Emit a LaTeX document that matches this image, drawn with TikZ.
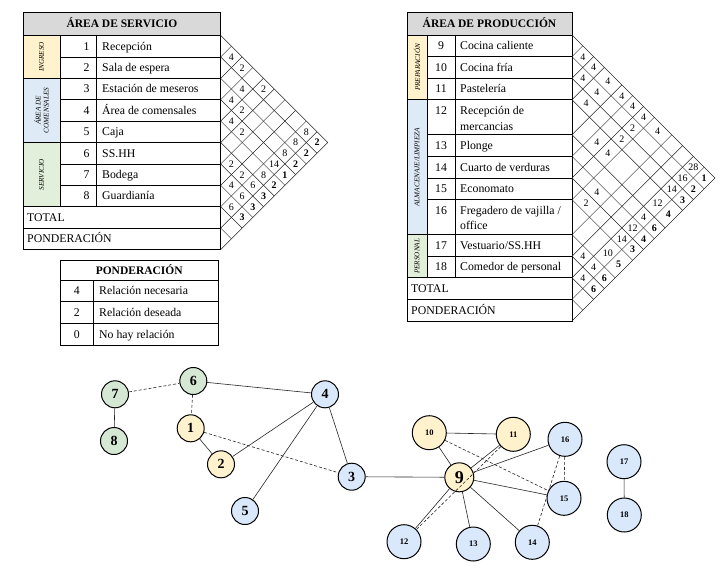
\documentclass[tikz,border=0pt]{standalone}
\usepackage{fontspec}
\setmainfont{Liberation Serif}
\definecolor{cyel}{HTML}{FFF2CC}
\definecolor{cblu}{HTML}{DAE8FC}
\definecolor{cgrn}{HTML}{D5E8D4}
\definecolor{tgray}{HTML}{D9D9D9}
\definecolor{tyel}{HTML}{FFF2CC}
\definecolor{tblu}{HTML}{DEEBF7}
\definecolor{tgrn}{HTML}{E2EFDA}
\newcommand\mRv[1]{\ifcase#1 0\or45.8\or67.4\or89\or117.3\or145.6\or167.2\or188.8\or217.1\or245.4\or267\or288.6\or310.2\fi}
\newcommand\lcell[3]{\node[cnum] (l#1-#2) at ({220.7+(#2-#1)*10.7},{35.5+(#1+#2-1)*10.7}) {#3};}
\newcommand\rcell[3]{\pgfmathsetmacro\cellma{\mRv{#1}}\pgfmathsetmacro\cellmb{\mRv{#2}}\pgfmathsetmacro\cellx{572+(\cellmb-\cellma)/2}\pgfmathsetmacro\celly{(\cellma+\cellmb)/2}\node[cnum] (r#1-#2) at (\cellx,\celly) {#3};}
\begin{document}
\begin{tikzpicture}[x=1pt,y=-1pt,
  tline/.style={line width=0.7pt,draw=black},
  gridl/.style={line width=0.45pt,draw=black!85},
  cnum/.style={inner sep=0pt,text height=6.8pt,text depth=0pt,font=\fontsize{10}{10}\selectfont},
  ttext/.style={inner sep=0pt,anchor=west,text height=7.6pt,text depth=0pt,font=\fontsize{11.8}{13}\selectfont},
  tnum/.style={inner sep=0pt,text height=7.6pt,text depth=0pt,font=\fontsize{11.8}{13}\selectfont},
  ttitle/.style={inner sep=0pt,text height=7.6pt,text depth=0pt,font=\fontsize{11.5}{13}\selectfont\bfseries},
  tcat/.style={inner sep=0pt,rotate=90,align=center,font=\fontsize{7.2}{8}\selectfont\itshape},
  gnode/.style={circle,draw=black,line width=1pt,minimum size=27pt,inner sep=0pt,font=\fontsize{14}{14}\selectfont\bfseries},
  gsmall/.style={gnode,minimum size=34pt,font=\fontsize{8.5}{9}\selectfont\bfseries},
  gy/.style={fill=cyel}, gb/.style={fill=cblu}, gg/.style={fill=cgrn},
  edge/.style={line width=0.6pt,draw=black!85},
  dedge/.style={edge,dash pattern=on 3pt off 2pt},
]
\useasboundingbox (0,0) rectangle (725,587);
\fill[white] (0,0) rectangle (725,587);

% ================= LEFT TABLE =================
\fill[tgray] (23,12) rectangle (220.7,35.5);
\fill[tyel] (23,35.5) rectangle (60,78.3);
\fill[tblu] (23,78.3) rectangle (60,142.5);
\fill[tgrn] (23,142.5) rectangle (60,206.7);
\draw[tline] (23,12) rectangle (220.7,249.5);
\draw[tline] (23,35.5) -- (220.7,35.5);
\foreach \k in {1,3,4,6,7} {\draw[tline] (60,{35.5+21.4*\k}) -- (220.7,{35.5+21.4*\k});}
\foreach \k in {2,5,8,9} {\draw[tline] (23,{35.5+21.4*\k}) -- (220.7,{35.5+21.4*\k});}
\draw[tline] (60,35.5) -- (60,206.7);
\draw[tline] (96,35.5) -- (96,206.7);
\node[ttitle] (ltitle) at (121.9,23.8) {ÁREA DE SERVICIO};
\node[tcat] (lcat1) at (41.5,56.9) {INGRESO};
\node[tcat] (lcat2) at (41.5,110.4) {ÁREA DE\\COMENSALES};
\node[tcat] (lcat3) at (41.5,174.6) {SERVICIO};
\foreach \k/\t in {1/{Recepción},2/{Sala de espera},3/{Estación de meseros},4/{Área de comensales},5/{Caja},6/{SS.HH},7/{Bodega},8/{Guardianía}} {
  \node[tnum] (ln\k) at (86.5,{35.5+21.4*(\k-0.5)}) {\k};
  \node[ttext] (lt\k) at (102,{35.5+21.4*(\k-0.5)}) {\t};
}
\node[ttext] (ltot) at (27,{35.5+21.4*8.5}) {TOTAL};
\node[ttext] (lpon) at (27,{35.5+21.4*9.5}) {PONDERACIÓN};

% left chart lattice
\foreach \k in {1,...,9} {
  \pgfmathsetmacro\bk{35.5+21.4*\k}
  \draw[gridl] (220.7,\bk) -- ++({(249.5-\bk)/2},{(249.5-\bk)/2});
  \draw[gridl] (220.7,\bk) -- ++({(\bk-35.5)/2},{-(\bk-35.5)/2});
}
\draw[gridl] (220.7,35.5) -- (327.7,142.5) -- (220.7,249.5);
\lcell{1}{2}{4}\lcell{1}{3}{2}\lcell{1}{5}{2}\lcell{2}{4}{4}\lcell{3}{4}{4}
\lcell{3}{5}{2}\lcell{4}{5}{4}\lcell{4}{6}{2}\lcell{6}{7}{2}\lcell{6}{8}{2}\lcell{7}{8}{4}
\lcell{1}{9}{8}\lcell{2}{9}{8}\lcell{3}{9}{8}\lcell{4}{9}{14}\lcell{5}{9}{8}\lcell{6}{9}{6}\lcell{7}{9}{6}\lcell{8}{9}{6}
\lcell{1}{10}{\textbf{2}}\lcell{2}{10}{\textbf{2}}\lcell{3}{10}{\textbf{2}}\lcell{4}{10}{\textbf{1}}
\lcell{5}{10}{\textbf{2}}\lcell{6}{10}{\textbf{3}}\lcell{7}{10}{\textbf{3}}\lcell{8}{10}{\textbf{3}}

% ================= LEGEND =================
\draw[tline] (60,260) rectangle (218.3,345);
\foreach \y in {280,301.7,323.3} {\draw[tline] (60,\y) -- (218.3,\y);}
\draw[tline] (93.3,280) -- (93.3,345);
\node[ttitle] (pt) at (139.2,270.3) {PONDERACIÓN};
\node[tnum] (p4) at (76.7,290.8) {4};
\node[ttext] (p4t) at (99,290.8) {Relación necesaria};
\node[tnum] (p2) at (76.7,312.5) {2};
\node[ttext] (p2t) at (99,312.5) {Relación deseada};
\node[tnum] (p0) at (76.7,334.2) {0};
\node[ttext] (p0t) at (99,334.2) {No hay relación};

% ================= RIGHT TABLE =================
\fill[tgray] (407,12) rectangle (572,35);
\fill[tyel] (407,35) rectangle (427,99.8);
\fill[tblu] (407,99.8) rectangle (427,234.6);
\fill[tgrn] (407,234.6) rectangle (427,277.8);
\draw[tline] (407,12) rectangle (572,321);
\draw[tline] (407,35) -- (572,35);
\foreach \b in {56.6,78.2,134.8,156.4,178,199.6,256.2} {\draw[tline] (427,\b) -- (572,\b);}
\foreach \b in {99.8,234.6,277.8,299.4} {\draw[tline] (407,\b) -- (572,\b);}
\draw[tline] (427,35) -- (427,277.8);
\draw[tline] (455,35) -- (455,277.8);
\node[ttitle] (rtitle) at (489.5,23.5) {ÁREA DE PRODUCCIÓN};
\node[tcat] (rcat1) at (417,67.4) {PREPARACIÓN};
\node[tcat] (rcat2) at (417,167.2) {ALMACENAJE/LIMPIEZA};
\node[tcat] (rcat3) at (417,256.2) {PERSONAL};
\foreach \k/\y/\t in {9/45.8/{Cocina caliente},10/67.4/{Cocina fría},11/89/{Pastelería},12/110.6/{Recepción de},13/145.6/{Plonge},14/167.2/{Cuarto de verduras},15/188.8/{Economato},16/210.4/{Fregadero de vajilla /},17/245.4/{Vestuario/SS.HH},18/267/{Comedor de personal}} {
  \node[tnum] (rn\k) at (441,\y) {\k};
  \node[ttext] (rt\k) at (460,\y) {\t};
}
\node[ttext] (rt12b) at (460,126.2) {mercancias};
\node[ttext] (rt16b) at (460,226) {office};
\node[ttext] (rtot) at (411,288.6) {TOTAL};
\node[ttext] (rpon) at (411,310.2) {PONDERACIÓN};

% right chart lattice
\foreach \b in {56.6,78.2,99.8,134.8,156.4,178,199.6,234.6,256.2,277.8,299.4} {
  \draw[gridl] (572,\b) -- ++({(321-\b)/2},{(321-\b)/2});
  \draw[gridl] (572,\b) -- ++({(\b-35)/2},{-(\b-35)/2});
}
\draw[gridl] (572,35) -- (715,178) -- (572,321);
\rcell{1}{2}{4}\rcell{1}{3}{4}\rcell{1}{4}{4}\rcell{1}{5}{4}\rcell{1}{6}{4}\rcell{1}{7}{4}\rcell{1}{8}{4}
\rcell{2}{3}{4}\rcell{2}{4}{4}\rcell{2}{7}{2}\rcell{3}{4}{4}\rcell{3}{7}{2}
\rcell{4}{6}{4}\rcell{4}{7}{4}\rcell{6}{8}{4}\rcell{7}{8}{2}\rcell{9}{10}{4}
\rcell{1}{11}{28}\rcell{2}{11}{16}\rcell{3}{11}{14}\rcell{4}{11}{12}\rcell{5}{11}{4}
\rcell{6}{11}{12}\rcell{7}{11}{14}\rcell{8}{11}{10}\rcell{9}{11}{4}\rcell{10}{11}{4}
\rcell{1}{12}{\textbf{1}}\rcell{2}{12}{\textbf{2}}\rcell{3}{12}{\textbf{3}}\rcell{4}{12}{\textbf{4}}\rcell{5}{12}{\textbf{6}}
\rcell{6}{12}{\textbf{4}}\rcell{7}{12}{\textbf{3}}\rcell{8}{12}{\textbf{5}}\rcell{9}{12}{\textbf{6}}\rcell{10}{12}{\textbf{6}}

% ================= GRAPH =================
\node[gnode,gg] (n7) at (115,394.3) {7};
\node[gnode,gg] (n6) at (193.3,381) {6};
\node[gnode,gg] (n8) at (114,441) {8};
\node[gnode,gy] (n1) at (190.7,428.3) {1};
\node[gnode,gy] (n2) at (221,464.3) {2};
\node[gnode,gb] (n4) at (325,394.3) {4};
\node[gnode,gb] (n3) at (351.7,476.7) {3};
\node[gnode,gb] (n5) at (245,511) {5};
\node[gnode,gy,minimum size=29pt,font=\fontsize{18}{18}\selectfont\bfseries] (n9) at (459.3,477.3) {9};
\node[gsmall,gy] (n10) at (429.3,432.7) {10};
\node[gsmall,gy] (n11) at (513.3,434.3) {11};
\node[gsmall,gb] (n16) at (565,439.3) {16};
\node[gsmall,gb] (n15) at (564,498.3) {15};
\node[gsmall,gb] (n17) at (624,461.7) {17};
\node[gsmall,gb] (n18) at (624.3,515) {18};
\node[gsmall,gb] (n12) at (404,541.7) {12};
\node[gsmall,gb] (n13) at (473.3,544) {13};
\node[gsmall,gb] (n14) at (532.3,542.3) {14};

\draw[dedge] (n7) -- (n6);
\draw[dedge] (n6) -- (n1);
\draw[edge] (n6) -- (n4);
\draw[edge] (n7) -- (n8);
\draw[edge] (n1) -- (n2);
\draw[dedge] (n1) -- (n3);
\draw[edge] (n2) -- (n4);
\draw[edge] (n4) -- (n5);
\draw[edge] (n4) -- (n3);
\draw[edge] (n3) -- (n9);
\draw[edge] (n10) -- (n11);
\draw[edge] (n10) -- (n9);
\draw[dedge] (n10) -- (n15);
\draw[edge] (n11) -- (n9);
\draw[dedge] (n11) -- (n12);
\draw[edge] (n9) -- (n16);
\draw[edge] (n9) -- (n15);
\draw[edge] (n9) -- (n12);
\draw[edge] (n9) -- (n13);
\draw[edge] (n9) -- (n14);
\draw[dedge] (n16) -- (n15);
\draw[dedge] (n16) -- (n14);
\draw[edge] (n17) -- (n18);
\end{tikzpicture}
\end{document}
